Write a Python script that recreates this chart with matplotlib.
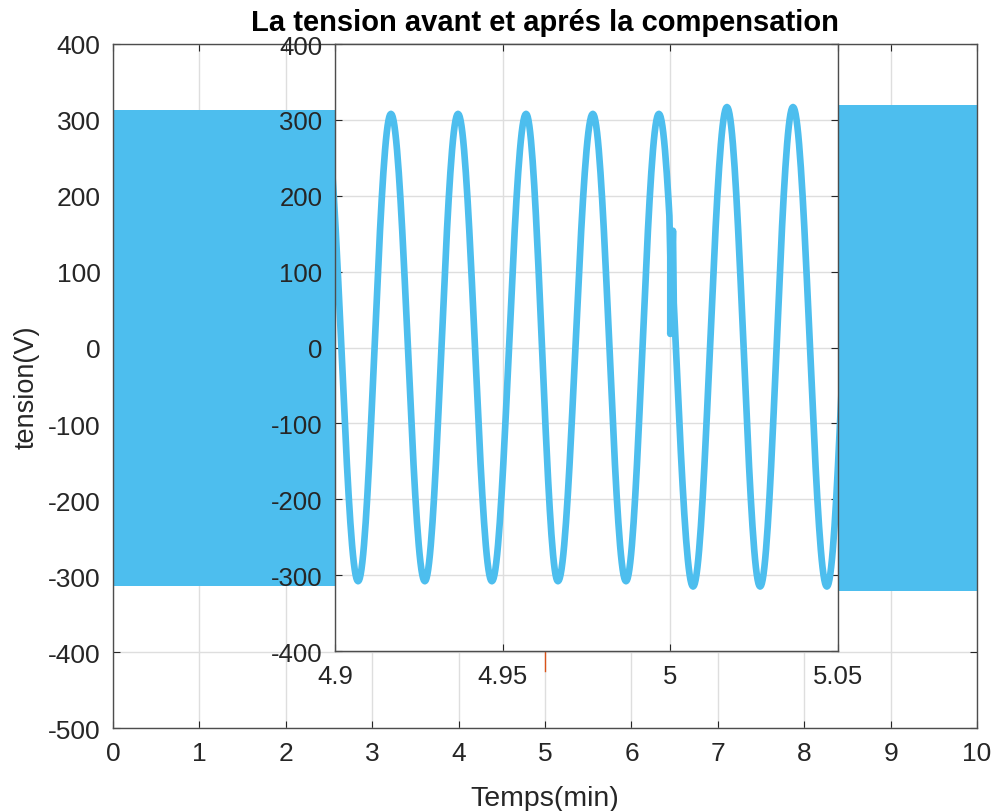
import numpy as np
import matplotlib
matplotlib.use("Agg")
import matplotlib.pyplot as plt

plt.rcParams['font.family'] = ['Liberation Sans', 'DejaVu Sans']
plt.rcParams['axes.unicode_minus'] = False

# envelope of the dense 50 Hz signal on the main axes (before / after compensation at t=5)
env_t = [0, 5, 5, 10]
env_top = [313, 313, 320, 320]
env_bot = [-313, -313, -320, -320]

# red trace at t=5, mostly hidden behind the zoom
red_t = [5, 5]
red_v = [0, -425]

# extrema of the zoomed signal (time, value)
ext_t = [4.8969, 4.9069, 4.9167, 4.9268, 4.9367, 4.9468, 4.9570, 4.9665, 4.9769,
         4.9868, 4.9966, 5.0068, 5.0169, 5.0268, 5.0366, 5.0467, 5.0566]
ext_v = [308, -308, 308, -308, 308, -308, 308, -308, 308,
         -308, 308, -315, 317, -315, 317, -315, 317]

# glitch at the switching instant
glitch_t = [5.0, 5.0, 5.0008]
glitch_v = [120, 18, 154]

main_xticks = list(range(0, 11))
main_yticks = list(range(-500, 401, 100))
zoom_xticks = [4.9, 4.95, 5, 5.05]
zoom_xlabels = ['4.9', '4.95', '5', '5.05']
zoom_yticks = list(range(-400, 401, 100))

blue = '#4DBEEE'
dark = '#262626'


def cosine_path(ts, vs, n=40):
    # half-cosine segments between successive extrema
    xs, ys = [], []
    for i in range(len(ts) - 1):
        s = np.linspace(0, 1, n)
        xs.append(ts[i] + s * (ts[i + 1] - ts[i]))
        ys.append(vs[i] + (vs[i + 1] - vs[i]) * (1 - np.cos(np.pi * s)) / 2)
    return np.concatenate(xs), np.concatenate(ys)


fig = plt.figure(figsize=(9.96, 8.12), dpi=100)
ax = fig.add_axes([0.1135, 0.1022, 0.8675, 0.8424])

ax.fill_between(env_t, env_bot, env_top, color=blue, lw=0, zorder=2)
ax.plot(red_t, red_v, color='#D95319', lw=1, zorder=2)
ax.set_xlim(0, 10)
ax.set_ylim(-500, 400)
ax.set_xticks(main_xticks)
ax.set_yticks(main_yticks)
ax.grid(True, color='#dedede', lw=1)
ax.set_axisbelow(True)
ax.tick_params(direction='in', length=5, top=True, right=True, labelsize=19,
               colors=dark, pad=9)
for s in ax.spines.values():
    s.set_color('#4d4d4d')
    s.set_linewidth(1)
ax.set_xlabel('Temps(min)', fontsize=20.5, color=dark, labelpad=15)
ax.set_ylabel('tension(V)', fontsize=19.5, color=dark, labelpad=6)
ax.set_title('La tension avant et aprés la compensation', fontsize=21,
             fontweight='bold', pad=10)

# zoomed view
ins = fig.add_axes([0.3363, 0.197, 0.505, 0.7475])
x, y = cosine_path(ext_t, ext_v)
cut = x < glitch_t[0]
after = x > glitch_t[-1]
xs = np.concatenate([x[cut], glitch_t, x[after]])
ys = np.concatenate([y[cut], glitch_v, y[after]])
ins.plot(xs, ys, color=blue, lw=4.8, solid_capstyle='round')
ins.set_xlim(4.9, 5.05)
ins.set_ylim(-400, 400)
ins.set_xticks(zoom_xticks)
ins.set_xticklabels(zoom_xlabels)
ins.set_yticks(zoom_yticks)
ins.grid(True, color='#dedede', lw=1)
ins.set_axisbelow(True)
ins.tick_params(direction='in', length=5, top=True, right=True, labelsize=18.5,
                colors=dark, pad=9)
for s in ins.spines.values():
    s.set_color('#4d4d4d')
    s.set_linewidth(1)

fig.savefig('out.png', dpi=100)
